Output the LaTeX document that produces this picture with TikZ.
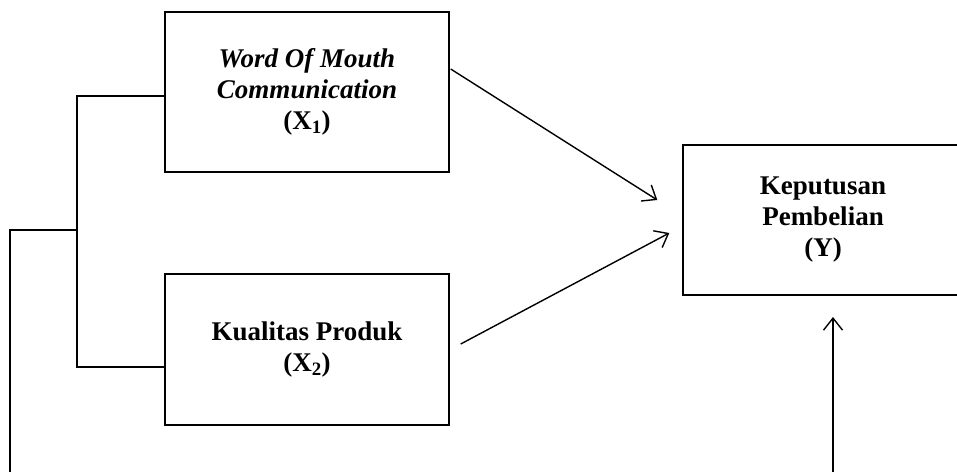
\documentclass[tikz,border=0pt]{standalone}
\usepackage{fontspec}
\setmainfont{Liberation Serif}
\usetikzlibrary{arrows.meta}
\tikzset{
  box/.style={draw, line width=1.4pt, align=center, font=\fontsize{27}{31}\selectfont\bfseries, inner sep=0pt},
  conn/.style={line width=1.4pt},
  arr/.style={conn, -{Straight Barb[length=12pt,width=19pt]}}
}
\begin{document}
\begin{tikzpicture}[x=1pt,y=-1pt]
\useasboundingbox (0,0) rectangle (957,472);
\node[box, minimum width=284pt, minimum height=160pt] (X1) at (307,92)
  {\textit{Word Of Mouth}\\\textit{Communication}\\(X\textsubscript{1})};
\node[box, minimum width=284pt, minimum height=151pt] (X2) at (307,349.5)
  {Kualitas Produk\\(X\textsubscript{2})};
\node[box, minimum width=280pt, minimum height=150pt] (Y) at (823,220)
  {Keputusan\\Pembelian\\(Y)};
\coordinate (jn) at (77,230);
\coordinate (lb) at (10,472);
\coordinate (rb) at (833,472);
\coordinate (ytip) at (833,317);
\draw[conn] ([yshift=-4pt]X1.west) -| (jn) |- ([yshift=-17.5pt]X2.west);
\draw[conn] (jn) -| (lb);
\draw[arr] (rb) -- (ytip);
\draw[arr] ([shift={(1pt,23pt)}]X1.east) -- ([shift={(-25pt,20pt)}]Y.west);
\draw[arr] ([shift={(11pt,5.5pt)}]X2.east) -- ([shift={(-13pt,-13pt)}]Y.west);
\end{tikzpicture}
\end{document}
